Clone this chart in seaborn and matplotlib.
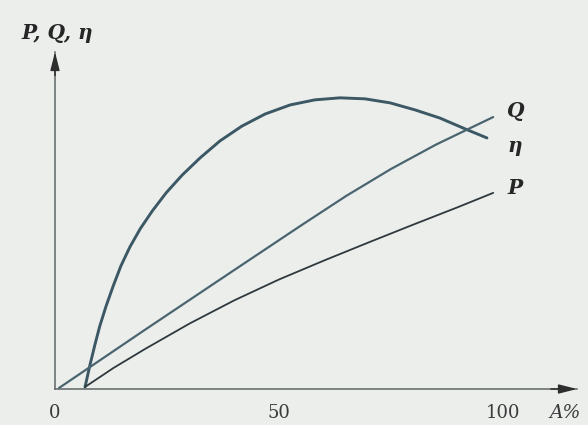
import matplotlib
matplotlib.use("Agg")
import matplotlib.pyplot as plt
import seaborn as sns
import pandas as pd

# Load fraction A% versus power P, flow Q and efficiency eta (arbitrary units)
eta_A = [6.7, 7.8, 8.9, 10.0, 11.4, 13.0, 14.7, 16.7, 19.0, 21.7, 24.8, 28.4,
         32.4, 36.8, 41.7, 46.9, 52.5, 58.0, 63.6, 69.2, 74.8, 80.4, 85.9,
         91.5, 96.4]
eta_val = [0.6, 7.1, 13.1, 18.7, 24.6, 30.6, 36.5, 42.1, 47.5, 52.8, 58.2, 63.5,
           68.6, 73.6, 78.0, 81.6, 84.3, 85.8, 86.4, 86.1, 84.9, 82.8, 80.4,
           77.2, 74.5]

Q_A = [0.9, 20.0, 40.0, 55.0, 65.0, 75.0, 85.0, 97.8]
Q_val = [0.3, 17.5, 35.3, 48.6, 57.3, 65.3, 72.5, 80.7]

P_A = [6.7, 13.0, 20.0, 30.0, 40.0, 50.0, 60.0, 70.0, 80.0, 90.0, 97.8]
P_val = [0.6, 6.2, 11.8, 19.4, 26.3, 32.5, 38.1, 43.5, 48.8, 54.0, 58.2]

x_ticks = [0, 50, 100]
x_tick_labels = ["0", "50", "100"]
curve_labels = ["Q", "η", "P"]

sns.set_style("white")
plt.rcParams["font.family"] = ["DejaVu Serif"]

bg = "#eceeec"
fig = plt.figure(figsize=(5.88, 4.25), dpi=100, facecolor=bg)
ax = fig.add_axes([55 / 588, 36 / 425, 522 / 588, 337 / 425])
ax.set_facecolor(bg)

curves = pd.concat([
    pd.DataFrame({"A": eta_A, "v": eta_val, "curve": "eta"}),
    pd.DataFrame({"A": Q_A, "v": Q_val, "curve": "Q"}),
    pd.DataFrame({"A": P_A, "v": P_val, "curve": "P"}),
])
styles = {"eta": ("#3b5864", 2.1), "Q": ("#4a6570", 1.6), "P": ("#2e383d", 1.3)}
for name, (col, lw) in styles.items():
    sub = curves[curves["curve"] == name]
    sns.lineplot(data=sub, x="A", y="v", sort=False, estimator=None,
                 color=col, linewidth=lw, ax=ax, solid_capstyle="round",
                 solid_joinstyle="round")

ax.set_xlim(0, 116.5)
ax.set_ylim(0, 100)
ax.set_xlabel("")
ax.set_ylabel("")

for side in ("top", "right"):
    ax.spines[side].set_visible(False)
for side in ("left", "bottom"):
    ax.spines[side].set_color("#5e6466")
    ax.spines[side].set_linewidth(1.1)

ax.set_yticks([])
ax.set_xticks(x_ticks)
ax.set_xticklabels(x_tick_labels, fontsize=13, color="#3a3a3a")
ax.tick_params(axis="x", direction="inout", length=12, width=1.0,
               color="#5e6466", pad=5)
ax.xaxis.get_major_ticks()[0].tick1line.set_visible(False)

# axis arrowheads
arrow_kw = dict(arrowstyle="-|>,head_length=1.1,head_width=0.28",
                color="#2e2e2e", lw=1.1, shrinkA=0, shrinkB=0)
ax.annotate("", xy=(1.0, 0), xytext=(0.95, 0), xycoords="axes fraction",
            arrowprops=arrow_kw, annotation_clip=False)
ax.annotate("", xy=(0, 1.0), xytext=(0, 0.93), xycoords="axes fraction",
            arrowprops=arrow_kw, annotation_clip=False)

lab_kw = dict(fontsize=14.5, style="italic", weight="semibold", color="#262626",
              transform=fig.transFigure)
fig.text(21 / 588, 1 - 33 / 425, "P, Q, η", ha="left", va="center", **lab_kw)
fig.text(565 / 588, 1 - 413 / 425, "A%", ha="center", va="center",
         fontsize=13.5, style="italic", color="#3a3a3a", transform=fig.transFigure)
for txt, py in zip(curve_labels, [111, 146, 188]):
    fig.text(507 / 588, 1 - py / 425, txt, ha="left", va="center", **lab_kw)

fig.savefig("out.png", dpi=100, facecolor=bg)
